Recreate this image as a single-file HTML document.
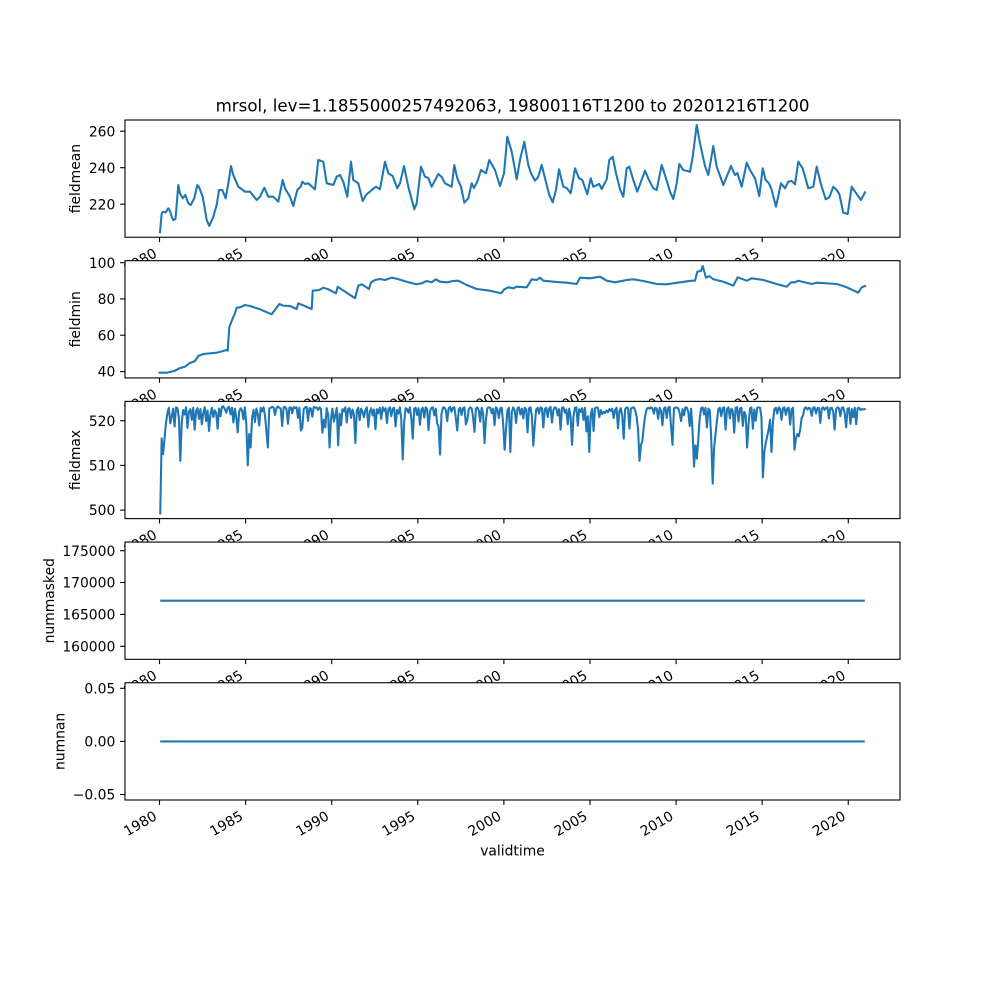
<!DOCTYPE html>
<html><head><meta charset="utf-8"><style>
html,body{margin:0;padding:0;background:#fff;}
svg{display:block;}
text{font-family:"DejaVu Sans","Liberation Sans",sans-serif;fill:#000;}
.tk{font-size:13.89px;}
</style></head><body>
<svg width="1000" height="1000" viewBox="0 0 1000 1000" xmlns="http://www.w3.org/2000/svg">
<rect x="0" y="0" width="1000" height="1000" fill="#fff"/>

<!-- ===== Panel 1: fieldmean ===== -->
<rect x="125" y="120" width="775" height="117.24" fill="#fff"/>
<polyline fill="none" stroke="#1f77b4" stroke-width="2.08" stroke-linejoin="round" stroke-linecap="square" points="160,232.3 161.7,213.3 163.3,211.7 165.5,212.5 168.3,208.3 170,211 171.7,216.7 173.3,220 175.5,219 178.3,185 180,193.3 182.7,198.3 185.3,195 188.3,203.3 190.7,205 194.3,198.3 197.3,185 199,187 202.7,196.7 206.7,220 209.3,226 213.3,216.7 216.7,205 219,190 222.3,190 225.7,198.3 228.3,183.3 231,166 233.3,175 238.3,186.7 245,191.7 250,191.7 256.7,200 260,196.7 264.3,187.7 268.3,196.7 273.3,196.7 278.3,201.7 282.7,180 285,188.3 290,196.7 293.3,206 297.3,190 300.7,186.7 302.3,181.7 305,184 308.3,183.3 315,189.3 318.3,160 323.3,161.7 326.7,183.3 333.3,185 336.7,176.7 340,175 343.3,181.7 347.3,196.7 351,161.7 353.3,180 358.3,183.3 362.7,201 366,195 371.7,190 376,186.7 380,189.3 385,161.7 388.3,173.3 392.7,176 397.3,188.3 400,183.3 404,166 408.3,186.7 414.3,209.3 416.7,203.3 421,166.7 425,176.7 428.3,178 431.7,186.7 438.3,174 441.7,177 445,183.3 451.7,186.7 454.3,165 457.3,178.3 461,186.7 464.3,202.7 468.3,198.3 471.7,183.3 474,188 477.3,181.7 481,170 486,173.3 489.3,160 495,170 500,186 504,173.3 507.3,136.7 511.7,151.7 516.7,179.3 520,160 524.3,141.7 528.3,165 531,173.3 535,180.7 538.3,176.7 541.7,165 545,178.3 549.3,195 552.7,202.3 556,190 559,169.3 563.3,186.7 566.7,188 570.7,193.3 575,168.3 579,178.3 582.3,180 587.3,194.3 590.7,178.3 593.3,186.7 599.3,184 601.7,189 606.7,179.3 609.3,160 612.7,156.7 616,173.3 620,189.3 623.3,196.7 626.7,168.3 629.3,166.7 633.3,180 637.3,191.7 645,170.7 649,180 653.3,188.3 656.7,190 661.7,165 666,178.3 670,191.7 673.3,199 676.7,183.3 679.3,164 683.3,170 690,171.7 692.7,156.7 696.7,125 700,143.3 705,166 708.3,175 713.3,146 716.7,166.7 723.3,185 731,166 735,175 737.3,173 741.7,186.7 746.7,162.7 750,170 755,178.3 759.3,196 762.7,168.3 765.7,180 769,183.3 771.7,190 776,206.7 781,183.3 785,188.3 788.3,181.7 791.7,181 795,184.3 798.3,161.7 802.7,168.3 808.3,188.3 813.3,186.7 816.7,166.7 820.7,183.3 825.7,199.3 829.3,197.3 833.3,186.7 836.7,190 839.3,194 843.3,212.7 847.7,214 851.7,186.7 855,191.7 861,200 865,192.3"/>
<rect x="125" y="120" width="775" height="117.24" fill="none" stroke="#000" stroke-width="1.1"/>
<g stroke="#000" stroke-width="1.1">
<line x1="120.1" y1="131.2" x2="125" y2="131.2"/>
<line x1="120.1" y1="167.7" x2="125" y2="167.7"/>
<line x1="120.1" y1="204.2" x2="125" y2="204.2"/>
</g>
<g class="tk" text-anchor="end">
<text x="115.3" y="136.3">260</text>
<text x="115.3" y="172.8">240</text>
<text x="115.3" y="209.3">220</text>
</g>
<text class="tk" text-anchor="middle" transform="translate(80,178.62) rotate(-90)">fieldmean</text>
<text x="512.5" y="111.7" text-anchor="middle" style="font-size:16.67px">mrsol, lev=1.1855000257492063, 19800116T1200 to 20201216T1200</text>
<g transform="translate(0,237.24)">
<path d="M159.5,0v4.86M245.63,0v4.86M331.71,0v4.86M417.79,0v4.86M503.88,0v4.86M590.01,0v4.86M676.09,0v4.86M762.17,0v4.86M848.26,0v4.86" stroke="#000" stroke-width="1.1"/>
<g class="tk" text-anchor="end">
<text x="157.86" y="18.8" transform="rotate(-30 157.86 18.8)">1980</text>
<text x="243.99" y="18.8" transform="rotate(-30 243.99 18.8)">1985</text>
<text x="330.07" y="18.8" transform="rotate(-30 330.07 18.8)">1990</text>
<text x="416.15" y="18.8" transform="rotate(-30 416.15 18.8)">1995</text>
<text x="502.24" y="18.8" transform="rotate(-30 502.24 18.8)">2000</text>
<text x="588.37" y="18.8" transform="rotate(-30 588.37 18.8)">2005</text>
<text x="674.45" y="18.8" transform="rotate(-30 674.45 18.8)">2010</text>
<text x="760.53" y="18.8" transform="rotate(-30 760.53 18.8)">2015</text>
<text x="846.62" y="18.8" transform="rotate(-30 846.62 18.8)">2020</text>
</g>
</g>

<!-- ===== Panel 2: fieldmin ===== -->
<rect x="125" y="260.69" width="775" height="117.24" fill="#fff"/>
<polyline fill="none" stroke="#1f77b4" stroke-width="2.08" stroke-linejoin="round" stroke-linecap="square" points="159.5,372.7 166.7,372.7 175,370.7 179.3,368.3 185,366.7 189.3,363.3 195,361 198.3,356 203.3,354 216.7,352.7 226.7,350 227.7,350.7 229.3,327.3 232.7,318.3 234.3,315 236.7,307.7 240,307.3 245,305 250,306 260,309.3 271.7,314.3 279.3,304 283.3,305.7 290,306 296.7,309 298.3,303.3 311.7,309 312.7,290.7 319.3,290 323.3,287.7 328.3,289.3 336,293.3 337.7,286.7 355,298.3 358.3,285.7 361.7,284.3 369,289 371,282.3 375,280 380,279 385,280 391.7,277.7 396.7,278.7 406.7,281.7 416,284.3 421.7,283.3 426.7,281 431.7,282.3 435.7,279.3 440,281.7 446.7,282.3 453.3,281 458.3,280.7 466.7,285 476.7,289 490,290.7 501,293.3 504.3,289.3 508.3,287.3 513.3,288.3 516.7,286.7 526.7,287.3 531.7,279.3 536.7,280 540,277.7 543.3,280.7 553.3,281.7 566.7,282.7 576.7,284 580,277.7 590,278.3 600,276.7 606.7,280.7 615,282.3 626.7,280 633.3,279.3 643.3,281 656.7,284 666.7,284.3 680,282.3 691.7,280.7 695,280.7 697.3,271.7 701,271 702.7,266 706,277.7 709.3,276 713.3,279.3 723.3,281.7 733.3,285.7 737.7,277.3 746.7,280.7 751.7,278.3 763.3,280 776.7,284 786.7,286.7 791,282.3 795,282.3 798.3,280.7 811.7,284 816.7,282.7 836.7,284 846.7,287.3 858.3,292.7 861.7,287.3 865,286"/>
<rect x="125" y="260.69" width="775" height="117.24" fill="none" stroke="#000" stroke-width="1.1"/>
<g stroke="#000" stroke-width="1.1">
<line x1="120.1" y1="262.7" x2="125" y2="262.7"/>
<line x1="120.1" y1="298.9" x2="125" y2="298.9"/>
<line x1="120.1" y1="335.2" x2="125" y2="335.2"/>
<line x1="120.1" y1="371.6" x2="125" y2="371.6"/>
</g>
<g class="tk" text-anchor="end">
<text x="115.3" y="267.8">100</text>
<text x="115.3" y="304.0">80</text>
<text x="115.3" y="340.3">60</text>
<text x="115.3" y="376.7">40</text>
</g>
<text class="tk" text-anchor="middle" transform="translate(80,319.31) rotate(-90)">fieldmin</text>
<g transform="translate(0,377.93)">
<path d="M159.5,0v4.86M245.63,0v4.86M331.71,0v4.86M417.79,0v4.86M503.88,0v4.86M590.01,0v4.86M676.09,0v4.86M762.17,0v4.86M848.26,0v4.86" stroke="#000" stroke-width="1.1"/>
<g class="tk" text-anchor="end">
<text x="157.86" y="18.8" transform="rotate(-30 157.86 18.8)">1980</text>
<text x="243.99" y="18.8" transform="rotate(-30 243.99 18.8)">1985</text>
<text x="330.07" y="18.8" transform="rotate(-30 330.07 18.8)">1990</text>
<text x="416.15" y="18.8" transform="rotate(-30 416.15 18.8)">1995</text>
<text x="502.24" y="18.8" transform="rotate(-30 502.24 18.8)">2000</text>
<text x="588.37" y="18.8" transform="rotate(-30 588.37 18.8)">2005</text>
<text x="674.45" y="18.8" transform="rotate(-30 674.45 18.8)">2010</text>
<text x="760.53" y="18.8" transform="rotate(-30 760.53 18.8)">2015</text>
<text x="846.62" y="18.8" transform="rotate(-30 846.62 18.8)">2020</text>
</g>
</g>

<!-- ===== Panel 3: fieldmax ===== -->
<rect x="125" y="401.38" width="775" height="117.24" fill="#fff"/>
<polyline fill="none" stroke="#1f77b4" stroke-width="2.08" stroke-linejoin="round" stroke-linecap="square" vector-effect="non-scaling-stroke" transform="matrix(1.43493 0 0 4.46 160.23 406.43)" points="0,24 1,7.2 2,10.7 3,7.2 4,3.7 5,1.5 6,0.3 7,3.8 8,2.2 9,0.5 10,4.5 11,0.2 12,0.4 13,2.5 14,12.2 15,3.5 16,0.8 17,1.8 18,0.2 19,4.8 20,1.2 21,0.6 22,3 23,0.3 24,5.2 25,1 26,0.4 27,2.8 28,0.6 29,4 30,1.5 31,0.2 32,3.3 33,0.9 34,5.5 35,1.8 36,0.3 37,2.4 38,0.9 39,1.5 40,5 41,0.5 42,2.2 43,0.1 44,0 45,0.6 46,1.4 47,0.3 48,0.1 49,1.8 50,0.3 51,3.6 52,0.5 53,2.5 54,5.8 55,1.2 56,0.4 57,0.9 58,2.9 59,0.2 60,4.1 61,13.2 62,6.2 63,9.2 64,2.6 65,0.8 66,3.5 67,0.5 68,1.7 69,4.3 70,0.3 71,1.1 72,0.2 73,2 74,5.6 75,9.2 76,0.5 77,0.3 78,0.1 79,0.2 80,1.9 81,0.4 82,0 83,0.3 84,0.5 85,4.4 86,0.2 87,0.1 88,0.6 89,3.9 90,0.3 91,0.2 92,1.5 93,0.1 94,0.4 95,0.2 96,2.6 97,0.3 98,5.4 99,4.8 100,0.6 101,0.2 102,0.1 103,3.2 104,0.4 105,0.5 106,2.3 107,0.1 108,0.3 109,0.2 110,0.8 111,0.2 112,0.6 113,5.9 114,3 115,4.7 116,0.4 117,1.8 118,9.2 119,2.7 120,0.5 121,3.4 122,2 123,0.3 124,8.7 125,1.6 126,4.2 127,0.6 128,1.1 129,0.2 130,3.6 131,0.5 132,0.4 133,2.6 134,0.7 135,1.9 136,8.2 137,0.9 138,0.3 139,3.1 140,0.5 141,1.2 142,2.4 143,0.8 144,0.2 145,4.6 146,1.3 147,0.4 148,2 149,0.7 150,5.1 151,0.6 152,1.5 153,0.3 154,2.8 155,0.2 156,1 157,0.4 158,3.7 159,0.6 160,0.2 161,2.2 162,0.5 163,0.3 164,4.5 165,0.8 166,1.6 167,0.2 168,3 169,11.9 170,3.5 171,0.4 172,0.6 173,1.4 174,0.2 175,2.7 176,7.2 177,0.5 178,0.3 179,1.9 180,0.4 181,4.1 182,0.7 183,0.3 184,2.5 185,0.2 186,0.6 187,5.3 188,1.1 189,0.3 190,0.2 191,2 192,0.5 193,3.8 194,4.6 195,10.8 196,1.7 197,0.3 198,0.2 199,0.8 200,3.3 201,0.4 202,0.1 203,1.2 204,0.3 205,0.2 206,2.6 207,5.4 208,0.7 209,0.3 210,1.9 211,0.4 212,0.2 213,4 214,3.1 215,0.6 216,0.2 217,0.4 218,2.3 219,5.7 220,0.5 221,0.2 222,0.9 223,3.4 224,0.3 225,1.6 226,8.2 227,2.9 228,0.4 229,0.2 230,0.3 231,1.5 232,0.5 233,4.2 234,0.2 235,0.7 236,2.6 237,0.4 238,0.3 239,3.9 240,9.7 241,5 242,0.8 243,0.3 244,10.2 245,1.3 246,0.2 247,0.9 248,3.7 249,0.4 250,0.2 251,1.8 252,0.5 253,2.7 254,0.3 255,0.6 256,5.8 257,0.4 258,0.2 259,2.1 260,8.8 261,4.2 262,0.7 263,0.3 264,1.6 265,0.2 266,0.4 267,4.7 268,0.6 269,0.3 270,2.4 271,0.5 272,0.1 273,3.6 274,0.8 275,0.2 276,0.4 277,2 278,0.6 279,5.2 280,0.3 281,0.2 282,1.4 283,0.7 284,4 285,0.5 286,2.3 287,8.6 288,2.1 289,0.3 290,0.2 291,4.3 292,0.6 293,1.2 294,0.4 295,3 296,0.3 297,5.6 298,2.2 299,10.2 300,1.9 301,0.5 302,5.5 303,0.4 304,0.2 305,0.3 306,2.4 307,0.8 308,1.7 309,1.2 310,1.5 311,0.9 312,1.3 313,0.6 314,1 315,0.5 316,2.6 317,0.8 318,0.3 319,4.9 320,1.1 321,0.4 322,2.1 323,7.2 324,0.6 325,0.2 326,0.3 327,5 328,0.5 329,0.3 330,0.2 331,0.9 332,2.3 333,5.2 334,12.2 335,8.7 336,7.7 337,4.5 338,2 339,0.6 340,0.3 341,0.5 342,0.2 343,0.4 344,1.6 345,0.3 346,0.5 347,2.8 348,0.3 349,1 350,4.2 351,0.5 352,0.2 353,2.6 354,0.3 355,0.1 356,4.6 357,8.6 358,0.5 359,0.2 360,0.3 361,0.4 362,1.5 363,3.3 364,0.6 365,2 366,0.2 367,0.3 368,1.2 369,4.4 370,0.5 371,5.7 372,13.5 373,8.7 374,11.7 375,7.2 376,2.5 377,0.4 378,0.2 379,1.8 380,0.3 381,4.7 382,0.5 383,0.9 384,7.2 385,17.3 386,9.2 387,6.2 388,3.1 389,0.6 390,0.3 391,2.2 392,0.4 393,0.2 394,5.2 395,0.6 396,0.2 397,2.7 398,0.5 399,1 400,5.9 401,0.3 402,0.2 403,3.4 404,0.5 405,0.3 406,4.4 407,1.2 408,2 409,9.2 410,4 411,0.5 412,0.2 413,5 414,0.7 415,3.2 416,0.3 417,0.2 418,0.3 419,2.5 420,15.9 421,10.2 422,8.2 423,6.7 424,5.2 425,3 426,10.2 427,3.5 428,0.6 429,0.3 430,1.6 431,0.2 432,0.5 433,3 434,0.4 435,0.2 436,1.9 437,0.5 438,0.3 439,4.1 440,0.6 441,0.3 442,9.7 443,7.2 444,6.2 445,6.7 446,5.2 447,2.6 448,2 449,0.4 450,0.2 451,0.7 452,0.3 453,0.5 454,2.1 455,0.3 456,0.2 457,1.6 458,0.4 459,0.3 460,3.7 461,0.5 462,0.2 463,0.8 464,0.3 465,0.2 466,2.7 467,0.4 468,0.3 469,1.2 470,5.2 471,0.6 472,0.2 473,0.4 474,2.2 475,0.3 476,0.2 477,1.5 478,4.7 479,0.5 480,0.4 481,3.9 482,0.6 483,2.4 484,0.3 485,4 486,0.4 487,0.3 488,0.8 489,0.6 490,0.7 491,0.6"/>
<rect x="125" y="401.38" width="775" height="117.24" fill="none" stroke="#000" stroke-width="1.1"/>
<g stroke="#000" stroke-width="1.1">
<line x1="120.1" y1="420.7" x2="125" y2="420.7"/>
<line x1="120.1" y1="465.4" x2="125" y2="465.4"/>
<line x1="120.1" y1="510.1" x2="125" y2="510.1"/>
</g>
<g class="tk" text-anchor="end">
<text x="115.3" y="425.8">520</text>
<text x="115.3" y="470.5">510</text>
<text x="115.3" y="515.2">500</text>
</g>
<text class="tk" text-anchor="middle" transform="translate(80,460) rotate(-90)">fieldmax</text>
<g transform="translate(0,518.62)">
<path d="M159.5,0v4.86M245.63,0v4.86M331.71,0v4.86M417.79,0v4.86M503.88,0v4.86M590.01,0v4.86M676.09,0v4.86M762.17,0v4.86M848.26,0v4.86" stroke="#000" stroke-width="1.1"/>
<g class="tk" text-anchor="end">
<text x="157.86" y="18.8" transform="rotate(-30 157.86 18.8)">1980</text>
<text x="243.99" y="18.8" transform="rotate(-30 243.99 18.8)">1985</text>
<text x="330.07" y="18.8" transform="rotate(-30 330.07 18.8)">1990</text>
<text x="416.15" y="18.8" transform="rotate(-30 416.15 18.8)">1995</text>
<text x="502.24" y="18.8" transform="rotate(-30 502.24 18.8)">2000</text>
<text x="588.37" y="18.8" transform="rotate(-30 588.37 18.8)">2005</text>
<text x="674.45" y="18.8" transform="rotate(-30 674.45 18.8)">2010</text>
<text x="760.53" y="18.8" transform="rotate(-30 760.53 18.8)">2015</text>
<text x="846.62" y="18.8" transform="rotate(-30 846.62 18.8)">2020</text>
</g>
</g>

<!-- ===== Panel 4: nummasked ===== -->
<rect x="125" y="542.07" width="775" height="117.24" fill="#fff"/>
<line x1="160.2" y1="600.7" x2="864.8" y2="600.7" stroke="#1f77b4" stroke-width="2.08"/>
<rect x="125" y="542.07" width="775" height="117.24" fill="none" stroke="#000" stroke-width="1.1"/>
<g stroke="#000" stroke-width="1.1">
<line x1="120.1" y1="550.7" x2="125" y2="550.7"/>
<line x1="120.1" y1="582.5" x2="125" y2="582.5"/>
<line x1="120.1" y1="614.4" x2="125" y2="614.4"/>
<line x1="120.1" y1="646.3" x2="125" y2="646.3"/>
</g>
<g class="tk" text-anchor="end">
<text x="115.3" y="555.8">175000</text>
<text x="115.3" y="587.6">170000</text>
<text x="115.3" y="619.5">165000</text>
<text x="115.3" y="651.4">160000</text>
</g>
<text class="tk" text-anchor="middle" transform="translate(54,600.69) rotate(-90)">nummasked</text>
<g transform="translate(0,659.31)">
<path d="M159.5,0v4.86M245.63,0v4.86M331.71,0v4.86M417.79,0v4.86M503.88,0v4.86M590.01,0v4.86M676.09,0v4.86M762.17,0v4.86M848.26,0v4.86" stroke="#000" stroke-width="1.1"/>
<g class="tk" text-anchor="end">
<text x="157.86" y="18.8" transform="rotate(-30 157.86 18.8)">1980</text>
<text x="243.99" y="18.8" transform="rotate(-30 243.99 18.8)">1985</text>
<text x="330.07" y="18.8" transform="rotate(-30 330.07 18.8)">1990</text>
<text x="416.15" y="18.8" transform="rotate(-30 416.15 18.8)">1995</text>
<text x="502.24" y="18.8" transform="rotate(-30 502.24 18.8)">2000</text>
<text x="588.37" y="18.8" transform="rotate(-30 588.37 18.8)">2005</text>
<text x="674.45" y="18.8" transform="rotate(-30 674.45 18.8)">2010</text>
<text x="760.53" y="18.8" transform="rotate(-30 760.53 18.8)">2015</text>
<text x="846.62" y="18.8" transform="rotate(-30 846.62 18.8)">2020</text>
</g>
</g>

<!-- ===== Panel 5: numnan ===== -->
<rect x="125" y="682.76" width="775" height="117.24" fill="#fff"/>
<line x1="160.2" y1="741.4" x2="864.8" y2="741.4" stroke="#1f77b4" stroke-width="2.08"/>
<rect x="125" y="682.76" width="775" height="117.24" fill="none" stroke="#000" stroke-width="1.1"/>
<g stroke="#000" stroke-width="1.1">
<line x1="120.1" y1="688.3" x2="125" y2="688.3"/>
<line x1="120.1" y1="741.4" x2="125" y2="741.4"/>
<line x1="120.1" y1="794.5" x2="125" y2="794.5"/>
</g>
<g class="tk" text-anchor="end">
<text x="115.3" y="693.4">0.05</text>
<text x="115.3" y="746.5">0.00</text>
<text x="115.3" y="799.6">−0.05</text>
</g>
<text class="tk" text-anchor="middle" transform="translate(64.3,741.38) rotate(-90)">numnan</text>
<g transform="translate(0,800)">
<path d="M159.5,0v4.86M245.63,0v4.86M331.71,0v4.86M417.79,0v4.86M503.88,0v4.86M590.01,0v4.86M676.09,0v4.86M762.17,0v4.86M848.26,0v4.86" stroke="#000" stroke-width="1.1"/>
<g class="tk" text-anchor="end">
<text x="157.86" y="18.8" transform="rotate(-30 157.86 18.8)">1980</text>
<text x="243.99" y="18.8" transform="rotate(-30 243.99 18.8)">1985</text>
<text x="330.07" y="18.8" transform="rotate(-30 330.07 18.8)">1990</text>
<text x="416.15" y="18.8" transform="rotate(-30 416.15 18.8)">1995</text>
<text x="502.24" y="18.8" transform="rotate(-30 502.24 18.8)">2000</text>
<text x="588.37" y="18.8" transform="rotate(-30 588.37 18.8)">2005</text>
<text x="674.45" y="18.8" transform="rotate(-30 674.45 18.8)">2010</text>
<text x="760.53" y="18.8" transform="rotate(-30 760.53 18.8)">2015</text>
<text x="846.62" y="18.8" transform="rotate(-30 846.62 18.8)">2020</text>
</g>
</g>
<text class="tk" x="512.5" y="855.5" text-anchor="middle">validtime</text>
</svg>
</body></html>
